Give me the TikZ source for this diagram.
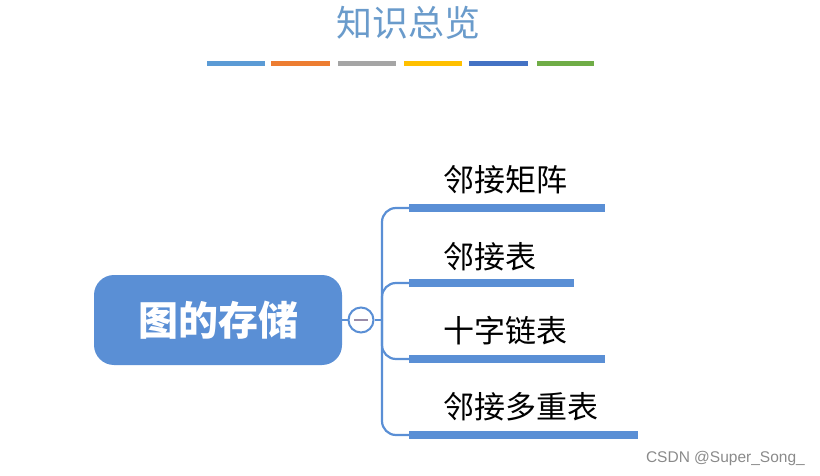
\documentclass[tikz,border=0pt]{standalone}
\usepackage{fontspec}
\setmainfont{Liberation Sans}
\newfontfamily\cjk{Noto Sans CJK SC}
\definecolor{mainblue}{HTML}{5A8FD5}
\definecolor{titleblue}{HTML}{6A9BCB}
\definecolor{cA}{HTML}{5B9BD5}
\definecolor{cB}{HTML}{ED7D31}
\definecolor{cC}{HTML}{A5A5A5}
\definecolor{cD}{HTML}{FFC000}
\definecolor{cE}{HTML}{4472C4}
\definecolor{cF}{HTML}{70AD47}
\definecolor{minusc}{HTML}{9A8CA8}
\definecolor{wmgray}{HTML}{8A8A8A}
\begin{document}
\begin{tikzpicture}[x=1pt,y=-1pt,
  colbar/.style={line width=5pt},
  conn/.style={draw=mainblue,line width=2.2pt,rounded corners=14pt},
  bar/.style={draw=mainblue,line width=8.5pt},
  leaf/.style={anchor=west,inner sep=0pt,font=\cjk\fontsize{31}{34}\selectfont,text=black},
  mainnode/.style={fill=mainblue,rounded corners=20pt,minimum width=248pt,minimum height=90pt,inner sep=0pt,text=white,font=\cjk\bfseries\fontsize{40}{44}\selectfont},
  toggle/.style={circle,draw=mainblue,fill=white,line width=2pt,minimum size=25pt,inner sep=0pt}]
\useasboundingbox (0,0) rectangle (820,476);
\node[font=\cjk\fontsize{36}{40}\selectfont,text=titleblue,inner sep=0pt] (title) at (408,23) {知识总览};
\foreach \xa/\xb/\c in {207/265/cA,271/330/cB,338/396/cC,404/462/cD,469/528/cE,537/594/cF}{
  \draw[colbar,draw=\c] (\xa,64) -- (\xb,64);
}
\node[mainnode] (main) at (218,320) {图的存储};
\node[toggle] (tog) at (361,320) {};
\draw[draw=minusc,line width=1.6pt] ([xshift=-7pt]tog.center) -- ([xshift=7pt]tog.center);
\coordinate (hub) at (382,320);
\draw[conn] (main.east) -- (tog.west);
\draw[conn] (tog.east) -- (hub);
\foreach \i/\y/\xe/\ty/\t in {1/208/605/180/邻接矩阵,2/283/574/257/邻接表,3/359/605/331/十字链表,4/435/638/407/邻接多重表}{
  \coordinate (bs\i) at (409,\y);
  \coordinate (be\i) at (\xe,\y);
  \draw[conn] (hub) |- (bs\i);
  \draw[bar] (bs\i) -- (be\i);
  \node[leaf] (leaf\i) at (443,\ty) {\t};
}
\node[anchor=east,inner sep=0pt,text=wmgray,font=\fontsize{15.5}{17}\selectfont] (wm) at (805,458) {CSDN @Super\_Song\_};
\end{tikzpicture}
\end{document}
